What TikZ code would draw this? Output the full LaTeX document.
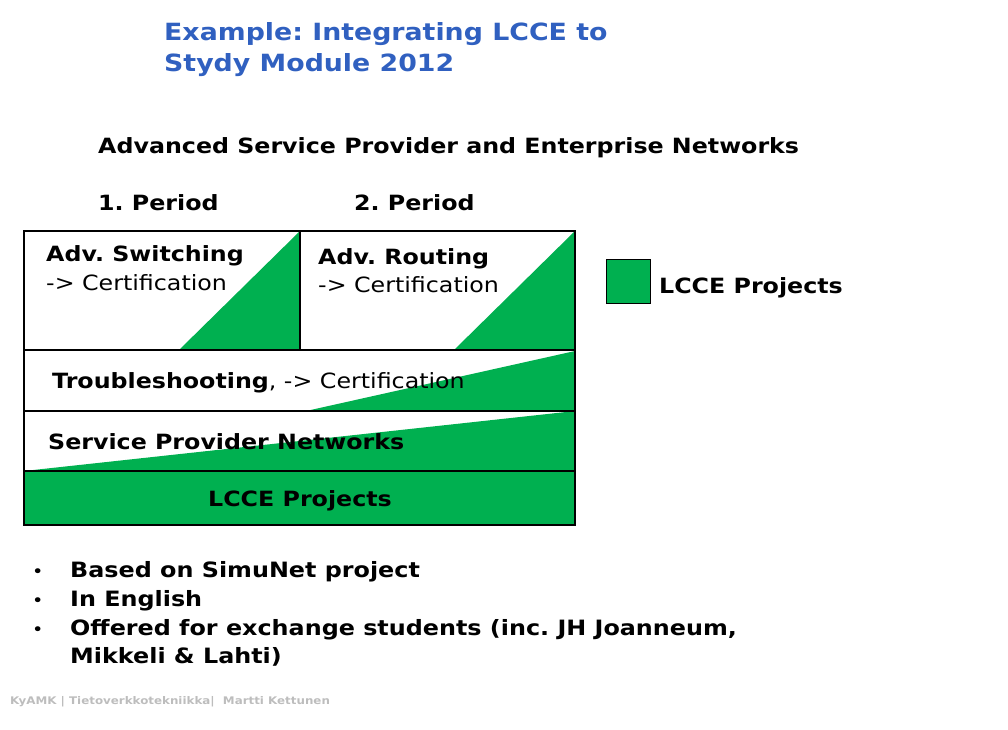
\documentclass[tikz,border=0pt]{standalone}
\usepackage{fontspec}
\setmainfont[FakeStretch=1.13]{DejaVu Sans}
\definecolor{lcce}{HTML}{00B050}
\definecolor{titleblue}{HTML}{3060C0}
\definecolor{footgray}{HTML}{BDBDBD}
\frenchspacing
\begin{document}
\begin{tikzpicture}[x=1pt,y=-1pt,
  title/.style={anchor=base west,inner sep=0pt,text=titleblue,font=\fontsize{23.7}{28}\selectfont\bfseries},
  heading/.style={anchor=base west,inner sep=0pt,font=\fontsize{21}{25}\selectfont\bfseries},
  celltext/.style={anchor=base west,inner sep=0pt,font=\fontsize{21}{25}\selectfont},
  bullet/.style={anchor=base west,inner sep=0pt,font=\fontsize{21.1}{26}\selectfont\bfseries},
  dot/.style={anchor=base west,inner sep=0pt,font=\fontsize{17}{20}\selectfont},
  grid/.style={line width=1.6pt}]
  \useasboundingbox (0,0) rectangle (1008,729);
  % title
  \node[title] (title1) at (164,40) {Example: Integrating LCCE to};
  \node[title] (title2) at (164,71.7) {Stydy Module 2012};
  \node[heading] (module) at (98,153) {Advanced Service Provider and Enterprise Networks};
  \node[heading] (period1) at (98,210) {1. Period};
  \node[heading] (period2) at (354,210) {2. Period};
  % green parts
  \fill[lcce] (179,350) -- (300,231) -- (300,350) -- cycle;
  \fill[lcce] (454,350) -- (575,231) -- (575,350) -- cycle;
  \fill[lcce] (306,411) -- (575,351) -- (575,411) -- cycle;
  \fill[lcce] (24,471) -- (575,411) -- (575,471) -- cycle;
  \fill[lcce] (24,471) rectangle (575,525);
  % cell texts
  \node[heading] (switching) at (46,261.5) {Adv. Switching};
  \node[celltext] (switchcert) at (46,290) {-> Certification};
  \node[heading] (routing) at (318,264) {Adv. Routing};
  \node[celltext] (routecert) at (318,292) {-> Certification};
  \node[celltext] (trouble) at (52,388) {\textbf{Troubleshooting}, -> Certification};
  \node[heading] (spn) at (48,449) {Service Provider Networks};
  \node[heading,anchor=base] (projects) at (300,506) {LCCE Projects};
  % grid
  \draw[grid] (24,231) rectangle (575,525);
  \draw[grid] (300,231) -- (300,350);
  \draw[grid] (24,350) -- (575,350);
  \draw[grid] (24,411) -- (575,411);
  \draw[grid] (24,471) -- (575,471);
  % legend
  \node[draw,fill=lcce,line width=1pt,minimum size=44pt,inner sep=0pt] (legendbox) at (628,281.5) {};
  \node[heading] (legend) at (659,293) {LCCE Projects};
  % bullets
  \node[dot] (dot1) at (32,577) {•};
  \node[bullet] (item1) at (70,577) {Based on SimuNet project};
  \node[dot] (dot2) at (32,606) {•};
  \node[bullet] (item2) at (70,606) {In English};
  \node[dot] (dot3) at (32,635) {•};
  \node[bullet] (item3) at (70,635) {Offered for exchange students (inc. JH Joanneum,};
  \node[bullet] (item3b) at (70,663) {Mikkeli \& Lahti)};
  % footer
  \node[anchor=base west,inner sep=0pt,text=footgray,font=\fontsize{10.5}{13}\selectfont\bfseries] (footer) at (10,704) {KyAMK | Tietoverkkotekniikka|\ \ Martti Kettunen};
\end{tikzpicture}
\end{document}
